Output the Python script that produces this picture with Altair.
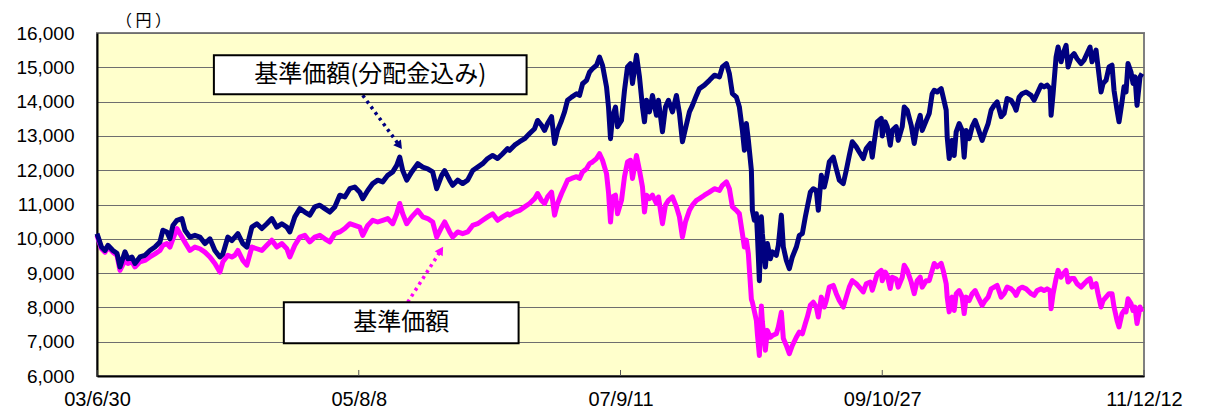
import altair as alt
import pandas as pd

# trading-day index (0 = 03/6/30, 2096 = 11/12/12)
day_idx = [0, 9, 16, 22, 32, 40, 46, 56, 62, 70, 76, 86, 96, 106, 116, 126, 132, 140, 146, 152,
           160, 170, 176, 186, 196, 206, 216, 226, 236, 246, 252, 262, 270, 276, 282, 292, 300, 310, 320, 330,
           340, 350, 360, 370, 380, 386, 396, 406, 416, 426, 436, 446, 456, 466, 476, 486, 496, 506, 516, 526,
           532, 542, 552, 562, 572, 582, 592, 600, 606, 612, 620, 630, 642, 652, 662, 672, 680, 690, 696, 706,
           712, 722, 732, 742, 752, 762, 772, 782, 792, 802, 812, 822, 826, 836, 846, 856, 866, 876, 882, 890,
           896, 902, 910, 916, 922, 930, 936, 942, 950, 960, 966, 972, 980, 986, 992, 1000, 1006, 1012, 1020, 1024,
           1028, 1032, 1038, 1042, 1050, 1056, 1062, 1068, 1072, 1080, 1086, 1092, 1096, 1100, 1106, 1112, 1120, 1124, 1132, 1138,
           1144, 1152, 1160, 1166, 1172, 1178, 1186, 1192, 1200, 1206, 1216, 1226, 1236, 1246, 1252, 1260, 1266, 1272, 1280, 1286,
           1292, 1296, 1300, 1304, 1310, 1312, 1316, 1320, 1322, 1326, 1330, 1332, 1338, 1342, 1348, 1352, 1360, 1364, 1370, 1374,
           1380, 1386, 1392, 1400, 1406, 1412, 1418, 1422, 1428, 1434, 1440, 1444, 1450, 1456, 1460, 1466, 1474, 1480, 1486, 1494,
           1500, 1506, 1512, 1520, 1526, 1534, 1540, 1548, 1552, 1556, 1562, 1570, 1572, 1578, 1582, 1588, 1592, 1600, 1604, 1612,
           1616, 1622, 1630, 1636, 1642, 1648, 1652, 1660, 1666, 1672, 1676, 1682, 1690, 1694, 1700, 1702, 1706, 1712, 1716, 1720,
           1726, 1732, 1736, 1740, 1746, 1752, 1758, 1764, 1772, 1778, 1784, 1790, 1796, 1802, 1810, 1816, 1822, 1830, 1836, 1840,
           1846, 1852, 1860, 1870, 1876, 1882, 1890, 1896, 1902, 1908, 1910, 1914, 1920, 1924, 1930, 1934, 1940, 1944, 1950, 1956,
           1962, 1970, 1976, 1982, 1988, 1992, 2000, 2004, 2010, 2014, 2020, 2026, 2032, 2036, 2042, 2046, 2052, 2056, 2060, 2064,
           2070, 2074, 2078, 2082, 2088, 2092]

# 基準価額(分配金込み)
nav_with_dist = [10150, 9760, 9660, 9810, 9660, 9580, 9180, 9620, 9420, 9470, 9280, 9470, 9520, 9660, 9760, 9910, 10250, 10200, 10000, 10390,
                 10540, 10590, 10250, 10050, 10100, 10050, 9860, 10000, 9660, 9470, 9560, 10050, 9950, 10050, 10150, 9860, 9760, 10340, 10440, 10300,
                 10440, 10590, 10340, 10440, 10340, 10200, 10640, 10880, 10780, 10690, 10930, 10980, 10880, 10780, 10930, 11270, 11220, 11460, 11510, 11360,
                 11170, 11410, 11610, 11710, 11660, 11850, 11950, 12140, 12380, 11990, 11710, 11950, 12190, 12090, 12040, 11950, 11460, 11850, 11990, 11710,
                 11560, 11710, 11610, 11710, 11990, 12090, 12190, 12340, 12430, 12340, 12480, 12630, 12580, 12730, 12830, 12920, 13070, 13210, 13450, 13310,
                 13160, 13360, 13560, 12780, 13160, 13450, 13700, 14040, 14130, 14230, 14180, 14520, 14620, 14860, 14960, 15060, 15300, 15060, 14430, 13840,
                 12920, 13560, 13840, 13270, 13450, 14330, 15010, 15110, 14530, 15350, 14720, 13840, 13410, 14040, 13700, 14180, 13600, 14040, 13120, 13840,
                 14040, 13700, 14180, 13650, 12830, 13210, 13700, 13890, 14180, 14380, 14480, 14620, 14770, 14720, 15010, 15110, 14810, 14230, 14130, 13840,
                 13160, 12580, 13360, 12870, 12000, 10830, 10540, 10730, 10150, 8780, 10640, 10150, 9180, 9860, 9420, 9620, 9520, 9810, 10690, 9760,
                 9370, 9130, 9470, 9760, 10100, 10150, 10640, 10930, 11360, 11460, 11410, 10830, 11850, 11510, 11760, 12240, 12380, 12040, 11710, 11610,
                 12000, 12430, 12830, 12680, 12530, 12340, 12630, 12780, 12380, 12830, 13410, 13510, 13000, 13410, 13270, 12730, 13160, 13270, 12870, 13270,
                 13840, 13750, 13310, 12780, 13310, 13600, 13160, 13450, 13650, 14230, 14330, 14280, 14380, 14130, 13750, 12970, 12340, 12870, 12430, 13120,
                 13360, 13160, 12380, 13160, 12920, 13270, 13450, 13210, 12870, 13120, 13360, 13750, 13890, 13990, 13560, 13650, 14090, 14040, 13890, 13750,
                 14130, 14230, 14280, 14180, 14040, 14230, 14480, 14430, 14480, 14380, 13600, 14230, 15300, 15590, 15160, 15400, 15640, 15010, 15300, 15400,
                 15250, 15110, 15210, 15400, 15590, 15160, 15500, 15010, 14280, 14530, 14620, 15010, 15060, 14330, 13750, 13410, 13990, 14430, 14280, 15110,
                 14860, 14530, 14720, 13890, 14720, 14820]

# 基準価額
nav = [10100, 9710, 9610, 9760, 9610, 9520, 9080, 9370, 9280, 9330, 9180, 9330, 9370, 9470, 9560, 9660, 9810, 9860, 9760, 10000,
       10300, 10050, 9900, 9660, 9760, 9710, 9610, 9470, 9280, 9030, 9330, 9520, 9470, 9520, 9660, 9370, 9230, 9760, 9710, 9660,
       9810, 9960, 9760, 9860, 9710, 9470, 9810, 10050, 10100, 9910, 10050, 10100, 10000, 9910, 10150, 10200, 10300, 10440, 10390, 10340,
       10100, 10390, 10540, 10490, 10540, 10590, 10440, 10730, 11030, 10730, 10440, 10640, 10830, 10640, 10590, 10490, 10050, 10340, 10490, 10200,
       10050, 10200, 10150, 10200, 10390, 10440, 10540, 10640, 10730, 10540, 10640, 10730, 10690, 10780, 10830, 10930, 11030, 11170, 11320, 11120,
       11030, 11220, 11360, 10690, 11030, 11320, 11510, 11710, 11760, 11810, 11760, 11950, 12040, 12190, 12240, 12340, 12480, 12290, 11900, 11360,
       10490, 11220, 11270, 10730, 11120, 11810, 12240, 12290, 11760, 12430, 11990, 11510, 10780, 11270, 11170, 11270, 11030, 11220, 10440, 10980,
       11120, 11220, 10930, 10640, 10050, 10490, 10830, 10980, 11120, 11170, 11270, 11360, 11460, 11410, 11560, 11660, 11460, 10930, 10830, 10730,
       10150, 9760, 9960, 9560, 8240, 8150, 7890, 7620, 7230, 6600, 8040, 7580, 6750, 7330, 7130, 7180, 7230, 7430, 7860, 7090,
       6890, 6650, 6890, 7130, 7280, 7230, 7530, 7720, 8060, 8150, 8010, 7720, 8300, 8010, 8200, 8590, 8640, 8400, 8200, 8010,
       8300, 8590, 8780, 8690, 8590, 8450, 8690, 8740, 8500, 8690, 8980, 9080, 8780, 9030, 8930, 8550, 8880, 8830, 8590, 8880,
       9230, 9080, 8740, 8400, 8780, 8880, 8590, 8780, 8780, 9080, 9280, 9180, 9280, 9080, 8690, 8300, 7870, 8300, 7910, 8400,
       8490, 8300, 7820, 8300, 8200, 8400, 8490, 8300, 8060, 8200, 8300, 8540, 8590, 8640, 8300, 8400, 8590, 8540, 8450, 8350,
       8540, 8590, 8540, 8400, 8350, 8490, 8540, 8490, 8540, 8490, 7960, 8400, 8840, 9080, 8880, 8980, 9080, 8740, 8840, 8840,
       8690, 8590, 8690, 8780, 8840, 8590, 8690, 8400, 8010, 8200, 8300, 8400, 8400, 8010, 7620, 7430, 7820, 7910, 7870, 8250,
       8110, 7910, 8010, 7530, 8010, 7870]

x_tick_values = [0, 524, 1048, 1572, 2096]
x_tick_labels = ["03/6/30", "05/8/8", "07/9/11", "09/10/27", "11/12/12"]
y_tick_values = [6000, 7000, 8000, 9000, 10000, 11000, 12000, 13000, 14000, 15000, 16000]

series_names = ["基準価額(分配金込み)", "基準価額"]
series_colors = ["#000080", "#FF00FF"]

# annotation boxes (data units) and arrows
boxes = pd.DataFrame({
    "label": ["基準価額(分配金込み)", "基準価額"],
    "x1": [234, 374], "x2": [860, 844],
    "y1": [15350, 8150], "y2": [14213, 6953],
})
boxes["xm"] = (boxes["x1"] + boxes["x2"]) / 2
boxes["ym"] = (boxes["y1"] + boxes["y2"]) / 2

arrow1 = pd.DataFrame({"x": [532, 604], "y": [14184, 12746]})
arrow2 = pd.DataFrame({"x": [622, 687], "y": [8149, 9630]})
heads = pd.DataFrame({"x": [604, 687], "y": [12746, 9630], "ang": [144, 32.5],
                      "c": series_colors})

df_div = pd.DataFrame({"idx": day_idx, "value": nav_with_dist})
df_nav = pd.DataFrame({"idx": day_idx, "value": nav})

label_expr = " : ".join(f"datum.value == {v} ? '{l}'" for v, l in zip(x_tick_values, x_tick_labels)) + " : ''"

xscale = alt.Scale(domain=[0, 2096], nice=False, zero=False)
yscale = alt.Scale(domain=[6000, 16000], nice=False, zero=False)

x_axis = alt.Axis(values=x_tick_values, labelExpr=label_expr, title=None)
y_axis = alt.Axis(values=y_tick_values, labelExpr="format(datum.value, ',')", title="（ 円 ）")


def xq(f):
    return alt.X(f, type="quantitative", scale=xscale, axis=x_axis)


def yq(f):
    return alt.Y(f, type="quantitative", scale=yscale, axis=y_axis)


line_nav = alt.Chart(df_nav).mark_line(color=series_colors[1], strokeWidth=5, strokeJoin="round").encode(x=xq("idx"), y=yq("value"))
line_div = alt.Chart(df_div).mark_line(color=series_colors[0], strokeWidth=5, strokeJoin="round").encode(x=xq("idx"), y=yq("value"))

ticks_df = pd.DataFrame({"idx": x_tick_values, "y0": [6000] * 5, "y1": [6175] * 5})
tick_rules = alt.Chart(ticks_df).mark_rule(color="#555555", strokeWidth=1).encode(x=xq("idx"), y=yq("y0"), y2="y1:Q")

a1 = alt.Chart(arrow1).mark_line(color=series_colors[0], strokeWidth=3.5, strokeDash=[3, 4]).encode(x=xq("x"), y=yq("y"))
a2 = alt.Chart(arrow2).mark_line(color=series_colors[1], strokeWidth=3.5, strokeDash=[3, 4]).encode(x=xq("x"), y=yq("y"))
ah = alt.Chart(heads).mark_point(shape="triangle", filled=True, size=90, opacity=1).encode(
    x=xq("x"), y=yq("y"), angle=alt.Angle("ang:Q", scale=None), color=alt.Color("c:N", scale=None))

box_rect = alt.Chart(boxes).mark_rect(fill="#FFFFFF", stroke="#000000", strokeWidth=2).encode(
    x=xq("x1"), x2="x2:Q", y=yq("y1"), y2="y2:Q")
box_text = alt.Chart(boxes).mark_text(font="Noto Sans CJK JP", fontSize=24, color="#000000",
                                      align="center", baseline="middle").encode(
    x=xq("xm"), y=yq("ym"), text="label:N")

chart = alt.layer(line_nav, line_div, tick_rules, a1, a2, ah, box_rect, box_text).properties(
    width=1047, height=343,
    autosize=alt.AutoSizeParams(type="none"),
    padding={"left": 89, "top": 25, "right": 50, "bottom": 34},
    background="#FFFFFF",
).configure_view(
    fill="#FFFFCC", stroke="#808080", strokeWidth=2
).configure_axis(
    labelFont="Liberation Sans", labelColor="#000000",
    domainColor="#000000", domainWidth=2, ticks=False, labelOverlap=False,
).configure_axisX(
    grid=False, labelPadding=13, labelFlush=False, labelFontSize=20,
).configure_axisY(
    grid=True, gridColor="#6e6e6e", gridWidth=1, labelPadding=23, labelFontSize=19,
    titleAngle=0, titleX=46, titleY=-13, titleAlign="center", titleBaseline="middle",
    titleFont="Noto Sans CJK JP", titleFontSize=16, titleFontWeight="normal", titleColor="#000000",
)

chart.save("out.html", embed_options={"renderer": "svg", "actions": False})
